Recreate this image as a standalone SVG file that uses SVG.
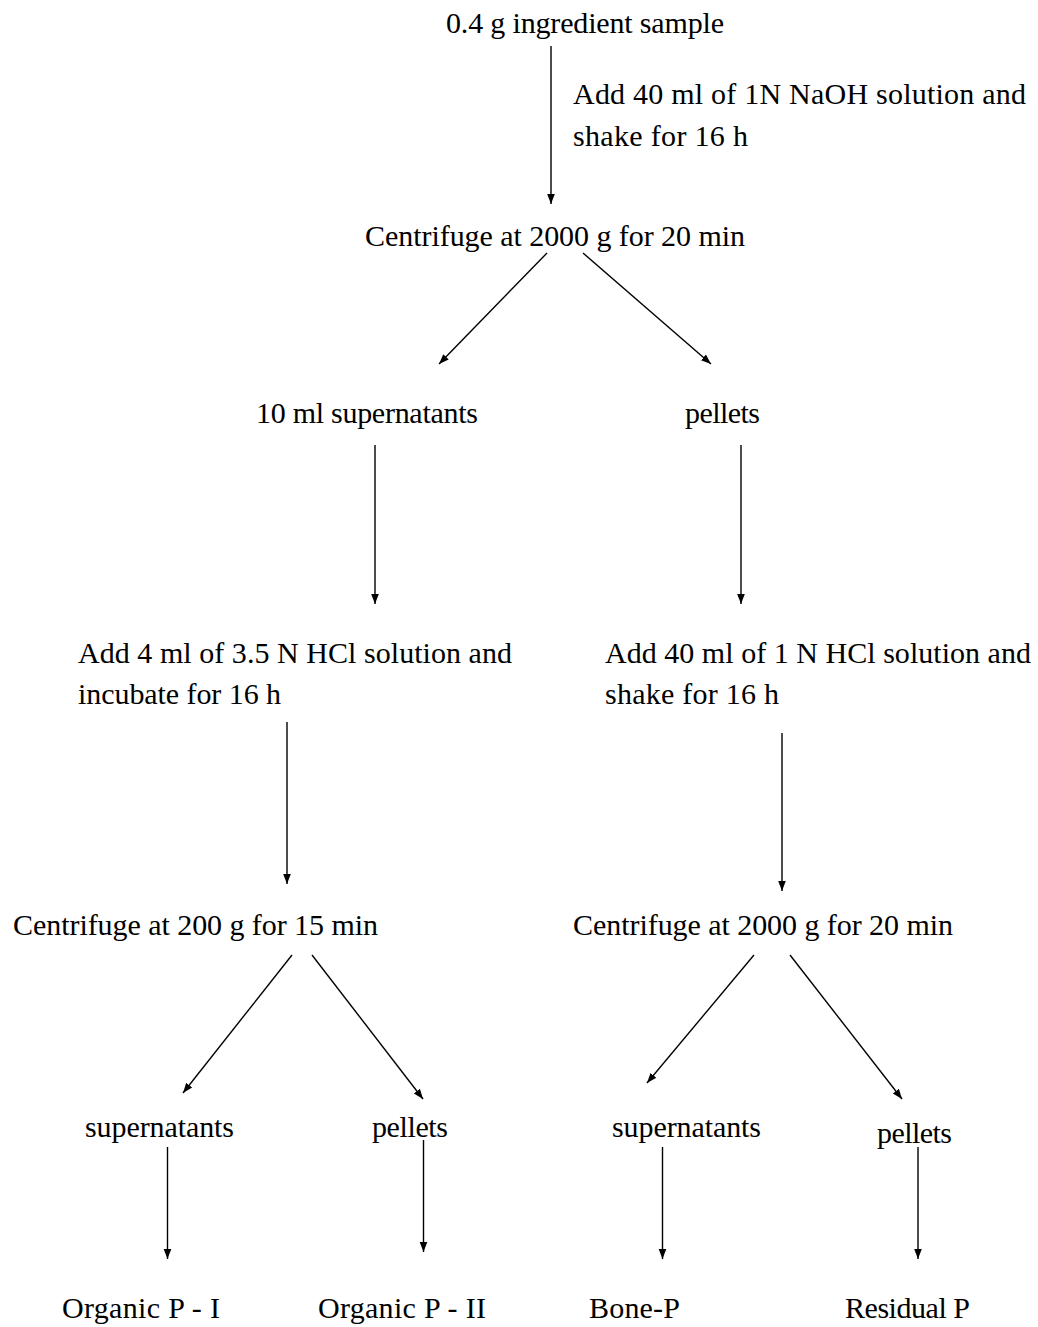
<svg xmlns="http://www.w3.org/2000/svg" width="1038" height="1327" viewBox="0 0 1038 1327">
<style>
text{font-family:"Liberation Serif","Times New Roman",serif;font-size:30px;fill:#000}
.c line{stroke:#000;stroke-width:1.4;fill:none}
</style>
<defs>
<marker id="ah" markerUnits="userSpaceOnUse" markerWidth="10" markerHeight="10" viewBox="0 0 10 10" refX="10" refY="5" orient="auto">
<path d="M0,1.2 L10,5 L0,8.8 Z" fill="#000"/>
</marker>
</defs>
<rect width="1038" height="1327" fill="#fff"/>
<g id="n-sample"><text x="446" y="33" textLength="278">0.4 g ingredient sample</text></g>
<g id="n-naoh"><text x="573" y="104" textLength="453">Add 40 ml of 1N NaOH solution and</text><text x="573" y="146" textLength="175">shake for 16 h</text></g>
<g id="n-cent1"><text x="365" y="246" textLength="380">Centrifuge at 2000 g for 20 min</text></g>
<g id="n-super1"><text x="256" y="423" textLength="222">10 ml supernatants</text></g>
<g id="n-pellets1"><text x="685" y="423" textLength="75">pellets</text></g>
<g id="n-hcl1"><text x="78" y="663" textLength="434">Add 4 ml of 3.5 N HCl solution and</text><text x="78" y="704" textLength="203">incubate for 16 h</text></g>
<g id="n-hcl2"><text x="605" y="663" textLength="426">Add 40 ml of 1 N HCl solution and</text><text x="605" y="704" textLength="174">shake for 16 h</text></g>
<g id="n-cent2"><text x="13" y="935" textLength="365">Centrifuge at 200 g for 15 min</text></g>
<g id="n-cent3"><text x="573" y="935" textLength="380">Centrifuge at 2000 g for 20 min</text></g>
<g id="n-super2"><text x="85" y="1137" textLength="149">supernatants</text></g>
<g id="n-pellets2"><text x="372" y="1137" textLength="76">pellets</text></g>
<g id="n-super3"><text x="612" y="1137" textLength="149">supernatants</text></g>
<g id="n-pellets3"><text x="877" y="1143" textLength="75">pellets</text></g>
<g id="n-orgI"><text x="62" y="1318" textLength="158">Organic P - I</text></g>
<g id="n-orgII"><text x="318" y="1318" textLength="168">Organic P - II</text></g>
<g id="n-bone"><text x="589" y="1318" textLength="91">Bone-P</text></g>
<g id="n-resid"><text x="845" y="1318" textLength="125">Residual P</text></g>
<g id="connectors" class="c">
<line x1="551" y1="46" x2="551" y2="204" marker-end="url(#ah)"/>
<line x1="547" y1="253" x2="439" y2="364" marker-end="url(#ah)"/>
<line x1="583" y1="253" x2="711" y2="364" marker-end="url(#ah)"/>
<line x1="375" y1="445" x2="375" y2="604" marker-end="url(#ah)"/>
<line x1="741" y1="445" x2="741" y2="604" marker-end="url(#ah)"/>
<line x1="287" y1="722" x2="287" y2="884" marker-end="url(#ah)"/>
<line x1="782" y1="733" x2="782" y2="891" marker-end="url(#ah)"/>
<line x1="292" y1="955" x2="183" y2="1093" marker-end="url(#ah)"/>
<line x1="312" y1="955" x2="423" y2="1099" marker-end="url(#ah)"/>
<line x1="754" y1="955" x2="647" y2="1083" marker-end="url(#ah)"/>
<line x1="790" y1="955" x2="902" y2="1099" marker-end="url(#ah)"/>
<line x1="167.5" y1="1147" x2="167.5" y2="1259" marker-end="url(#ah)"/>
<line x1="423.5" y1="1140" x2="423.5" y2="1252" marker-end="url(#ah)"/>
<line x1="662.5" y1="1147" x2="662.5" y2="1259" marker-end="url(#ah)"/>
<line x1="918" y1="1147" x2="918" y2="1259" marker-end="url(#ah)"/>
</g>
</svg>
